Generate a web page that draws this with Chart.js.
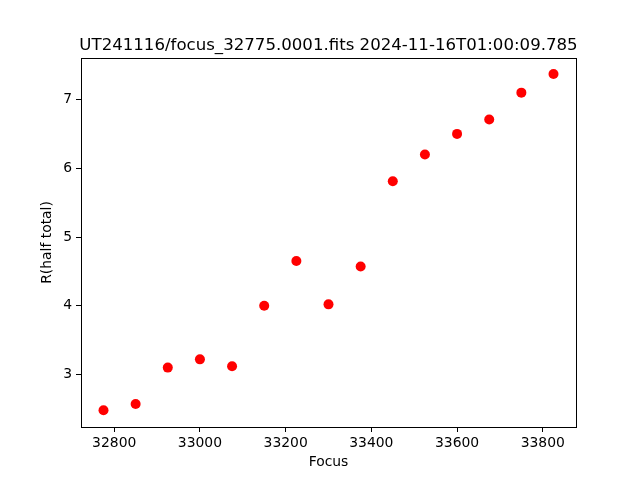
<!DOCTYPE html>
<html><head><meta charset="utf-8">
<script src="https://cdn.jsdelivr.net/npm/chart.js@4"></script>
<style>html,body{margin:0;padding:0;background:#fff}#c{display:block}</style>
</head><body>
<div style="width:640px;height:480px"><canvas id="c" width="640" height="480"></canvas></div>
<script>
const focus = [32775, 32850, 32925, 33000, 33075, 33150, 33225, 33300, 33375, 33450, 33525, 33600, 33675, 33750, 33825];
const rHalfTotal = [2.48, 2.57, 3.10, 3.22, 3.12, 4.00, 4.65, 4.02, 4.57, 5.81, 6.20, 6.50, 6.71, 7.10, 7.37];
const xTicks = [32800, 33000, 33200, 33400, 33600, 33800];
const yTicks = [3, 4, 5, 6, 7];
const titleText = 'UT241116/focus_32775.0001.fits 2024-11-16T01:00:09.785';
const xLabel = 'Focus';
const yLabel = 'R(half total)';

const FONT = 'DejaVu Sans';
const frame = {
  id: 'frame',
  afterDraw(chart) {
    const {ctx, chartArea: a} = chart;
    ctx.save();
    ctx.strokeStyle = '#000'; ctx.lineWidth = 1;
    ctx.strokeRect(Math.round(a.left)+0.5, Math.round(a.top)+0.5, Math.round(a.right-a.left), Math.round(a.bottom-a.top));
    ctx.fillStyle = '#000';
    ctx.font = '16.6px "' + FONT + '"';
    ctx.textAlign = 'center'; ctx.textBaseline = 'alphabetic';
    ctx.fillText(titleText, (a.left + a.right) / 2, 50);
    ctx.font = '13.9px "' + FONT + '"';
    ctx.textBaseline = 'middle';
    ctx.fillText(xLabel, (a.left + a.right) / 2, 462);
    ctx.translate(47, (a.top + a.bottom) / 2);
    ctx.rotate(-Math.PI / 2);
    ctx.fillText(yLabel, 0, 0);
    ctx.restore();
  }
};
const pts = focus.map((x, i) => ({x, y: rHalfTotal[i]}));
new Chart(document.getElementById('c'), {
  type: 'scatter',
  data: { datasets: [{ data: pts, backgroundColor: '#ff0000', borderWidth: 0, pointRadius: 5, pointHoverRadius: 5 }] },
  options: {
    responsive: false, animation: false, devicePixelRatio: 1,
    layout: { padding: { top: 58, right: 64, left: 0, bottom: 0 } },
    plugins: { legend: { display: false }, tooltip: { enabled: false }, title: { display: false } },
    scales: {
      x: {
        type: 'linear', min: 32722.5, max: 33877.5,
        afterBuildTicks: s => { s.ticks = xTicks.map(v => ({value: v})); },
        afterFit: s => { s.height = 53; },
        grid: { drawOnChartArea: false, drawTicks: true, tickLength: 5, tickColor: '#000' },
        border: { display: false },
        ticks: { color: '#000', font: { family: FONT, size: 13.9 }, padding: 3, maxRotation: 0, callback: v => String(v) }
      },
      y: {
        type: 'linear', min: 2.236, max: 7.604,
        afterBuildTicks: s => { s.ticks = yTicks.map(v => ({value: v})); },
        afterFit: s => { s.width = 81; },
        grid: { drawOnChartArea: false, drawTicks: true, tickLength: 5, tickColor: '#000' },
        border: { display: false },
        ticks: { color: '#000', font: { family: FONT, size: 13.9 }, padding: 4, callback: v => String(v) }
      }
    }
  },
  plugins: [frame]
});
</script>
</body></html>
